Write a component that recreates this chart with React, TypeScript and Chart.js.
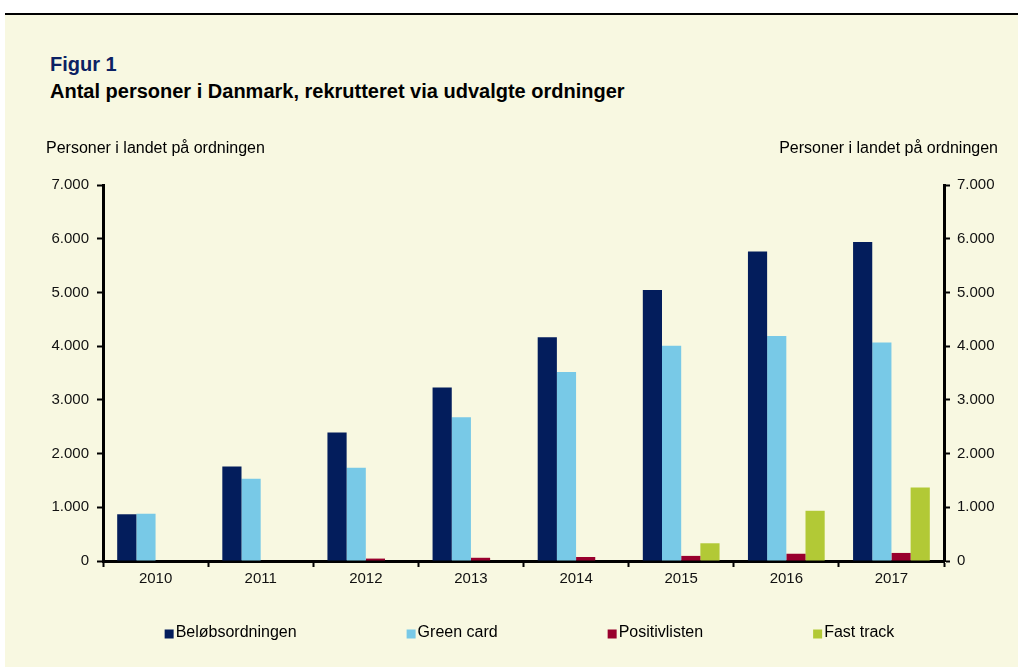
import React, { useEffect, useRef } from "react";
import { Chart, registerables } from "chart.js";

Chart.register(...registerables);

const categories = ["2010", "2011", "2012", "2013", "2014", "2015", "2016", "2017"];
const belobsordningen = [870, 1760, 2390, 3230, 4165, 5045, 5760, 5940];
const greenCard = [880, 1530, 1735, 2675, 3520, 4005, 4190, 4070];
const positivlisten = [0, 0, 45, 60, 75, 95, 135, 150];
const fastTrack = [0, 0, 0, 0, 0, 330, 935, 1370];
const seriesNames = ["Beløbsordningen", "Green card", "Positivlisten", "Fast track"];
const seriesColors = ["#031D5C", "#78C9E7", "#99002D", "#B2C936"];
const yMin = 0;
const yMax = 7000;
const yStep = 1000;
const axisTitle = "Personer i landet på ordningen";
const figLabel = "Figur 1";
const figTitle = "Antal personer i Danmark, rekrutteret via udvalgte ordninger";

const FONT = "'Liberation Sans', Arial, sans-serif";
const BG = "#F8F8E1";

const fmt = (v: number) => {
  const s = Math.round(v).toString();
  return s.replace(/\B(?=(\d{3})+(?!\d))/g, ".");
};

const overlayPlugin = {
  id: "overlay",
  afterDraw(chart: any) {
    const ctx = chart.ctx as CanvasRenderingContext2D;
    const area = chart.chartArea;
    ctx.save();
    ctx.fillStyle = "#000";
    ctx.font = `16px ${FONT}`;
    ctx.textBaseline = "middle";
    ctx.textAlign = "left";
    ctx.fillText(axisTitle, 46, 149);
    ctx.textAlign = "right";
    ctx.fillText(axisTitle, 998, 149);

    // legend
    ctx.textAlign = "left";
    const box = 9;
    const gapText = 2;
    const gapItem = 110;
    const widths = chart.data.datasets.map(
      (d: any) => box + gapText + ctx.measureText(d.label).width
    );
    const total = widths.reduce((a: number, b: number) => a + b, 0) + gapItem * (widths.length - 1);
    let x = (area.left + area.right) / 2 + 6 - total / 2;
    const y = 633;
    chart.data.datasets.forEach((d: any, i: number) => {
      ctx.fillStyle = d.backgroundColor;
      ctx.fillRect(x, y - box / 2 + 1, box, box);
      ctx.fillStyle = "#000";
      ctx.fillText(d.label, x + box + gapText, y);
      x += widths[i] + gapItem;
    });
    ctx.restore();
  },
};

export default function App() {
  const ref = useRef<HTMLCanvasElement | null>(null);

  useEffect(() => {
    if (!ref.current) return;
    const data = [belobsordningen, greenCard, positivlisten, fastTrack];
    const tickFont = { size: 15, family: FONT };
    const chart = new Chart(ref.current, {
      type: "bar",
      data: {
        labels: categories,
        datasets: data.map((vals, i) => ({
          label: seriesNames[i],
          data: vals,
          backgroundColor: seriesColors[i],
          borderWidth: 0,
          categoryPercentage: 0.73,
          barPercentage: 1.0,
          yAxisID: "y",
        })),
      },
      options: {
        responsive: false,
        animation: false,
        layout: { padding: { left: 0, right: 0, top: 185, bottom: 76 } },
        plugins: {
          legend: { display: false },
          tooltip: { enabled: false },
          title: { display: false },
        },
        scales: {
          x: {
            grid: {
              offset: true,
              drawOnChartArea: false,
              drawTicks: true,
              tickLength: 6,
              tickWidth: 2,
              tickColor: "#000",
            },
            border: { display: true, color: "#000", width: 3 },
            ticks: { color: "#111", font: tickFont, padding: 3 },
            afterFit: (s: any) => {
              s.height = 30;
            },
          },
          y: {
            position: "left",
            min: yMin,
            max: yMax,
            ticks: {
              stepSize: yStep,
              color: "#111",
              font: tickFont,
              padding: 8,
              callback: (v: any) => fmt(Number(v)),
            },
            grid: {
              drawOnChartArea: false,
              drawTicks: true,
              tickLength: 6,
              tickWidth: 2,
              tickColor: "#000",
            },
            border: { display: true, color: "#000", width: 3 },
            afterFit: (s: any) => {
              s.width = 103;
            },
          },
          y2: {
            position: "right",
            min: yMin,
            max: yMax,
            ticks: {
              stepSize: yStep,
              color: "#111",
              font: tickFont,
              padding: 7,
              callback: (v: any) => fmt(Number(v)),
            },
            grid: {
              drawOnChartArea: false,
              drawTicks: true,
              tickLength: 6,
              tickWidth: 2,
              tickColor: "#000",
            },
            border: { display: true, color: "#000", width: 3 },
            afterFit: (s: any) => {
              s.width = 74;
            },
          },
        },
      } as any,
      plugins: [overlayPlugin],
    });
    return () => chart.destroy();
  }, []);

  return (
    <div style={{ position: "absolute", left: 0, top: 0, width: 1018, height: 667, background: "#fff", overflow: "hidden" }}>
      <div
        style={{
          position: "absolute",
          left: 5,
          top: 13,
          width: 1013,
          height: 654,
          background: BG,
          borderTop: "2px solid #000",
          boxSizing: "border-box",
        }}
      />
      <div
        style={{
          position: "absolute",
          left: 50,
          top: 54,
          fontFamily: FONT,
          fontWeight: "bold",
          fontSize: 20,
          color: "#0B2163",
          lineHeight: "20px",
        }}
      >
        {figLabel}
      </div>
      <div
        style={{
          position: "absolute",
          left: 50,
          top: 81,
          fontFamily: FONT,
          fontWeight: "bold",
          fontSize: 20,
          color: "#000",
          lineHeight: "20px",
          whiteSpace: "nowrap",
        }}
      >
        {figTitle}
      </div>
      <canvas
        ref={ref}
        width={1018}
        height={667}
        style={{ position: "absolute", left: 0, top: 0, width: 1018, height: 667 }}
      />
    </div>
  );
}
